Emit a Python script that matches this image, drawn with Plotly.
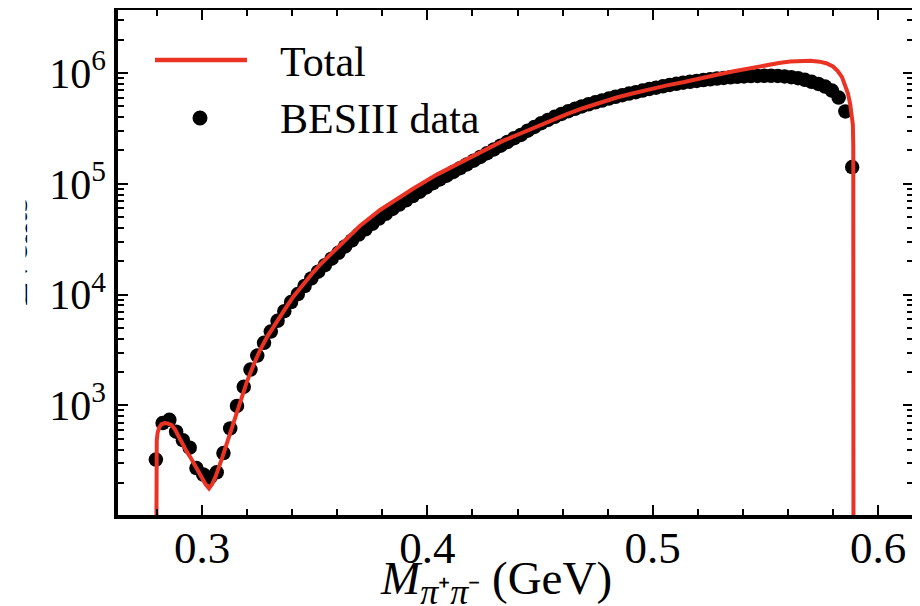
import plotly.graph_objects as go

# ---------------- data ----------------
mass_data = [0.2795, 0.2825, 0.2855, 0.2885, 0.2915, 0.2945, 0.2975, 0.3005, 0.3035, 0.3065,
             0.3095, 0.3125, 0.3155, 0.3185, 0.3215, 0.3245, 0.3275, 0.3305, 0.3335, 0.3365,
             0.3395, 0.3425, 0.3455, 0.3485, 0.3515, 0.3545, 0.3575, 0.3605, 0.3635, 0.3665,
             0.3695, 0.3725, 0.3755, 0.3785, 0.3815, 0.3845, 0.3875, 0.3905, 0.3935, 0.3965,
             0.3995, 0.4025, 0.4055, 0.4085, 0.4115, 0.4145, 0.4175, 0.4205, 0.4235, 0.4265,
             0.4295, 0.4325, 0.4355, 0.4385, 0.4415, 0.4445, 0.4475, 0.4505, 0.4535, 0.4565,
             0.4595, 0.4625, 0.4655, 0.4685, 0.4715, 0.4745, 0.4775, 0.4805, 0.4835, 0.4865,
             0.4895, 0.4925, 0.4955, 0.4985, 0.5015, 0.5045, 0.5075, 0.5105, 0.5135, 0.5165,
             0.5195, 0.5225, 0.5255, 0.5285, 0.5315, 0.5345, 0.5375, 0.5405, 0.5435, 0.5465,
             0.5495, 0.5525, 0.5555, 0.5585, 0.5615, 0.5645, 0.5675, 0.5705, 0.5735, 0.5765,
             0.5795, 0.5825, 0.5855, 0.5885]

events_data = [325, 693, 741, 580, 486, 415, 272, 238, 223, 249,
               372, 620, 989, 1474, 2107, 2819, 3674, 4645, 5800, 7096,
               8573, 10124, 11965, 14006, 16124, 18454, 21129, 23853, 27250, 30813,
               34812, 38905, 43551, 48641, 53703, 59429, 64925, 71040, 77590, 84822,
               92768, 101345, 109600, 118438, 128043, 138393, 149693, 161736, 174902, 189019,
               204394, 220953, 238781, 258047, 275997, 301577, 326137, 352507, 376963, 402902,
               427938, 452311, 476040, 500035, 522760, 544131, 565163, 588267, 610917, 631627,
               653064, 672283, 695024, 718620, 738080, 759632, 780192, 799641, 817510, 834094,
               849210, 864401, 878119, 891774, 903761, 913909, 924064, 932400, 938649, 942762,
               944934, 944934, 940596, 932400, 917919, 897788, 868246, 834094, 797804, 754528,
               695024, 601423, 450333, 141579]

mass_total = [0.27955, 0.27960, 0.27970, 0.2799, 0.2803, 0.2810, 0.2820, 0.2835, 0.2850, 0.2865,
              0.2880, 0.2895, 0.2910, 0.2930, 0.2954, 0.2975, 0.2999, 0.3015, 0.3031, 0.3045,
              0.3060, 0.3075, 0.3090, 0.3110, 0.3132, 0.3154, 0.3176, 0.3198, 0.3228, 0.3257,
              0.3290, 0.3316, 0.3346, 0.3376, 0.3405, 0.3435, 0.3465, 0.3494, 0.3524, 0.3553,
              0.3600, 0.3642, 0.3700, 0.3790, 0.3868, 0.3938, 0.4042, 0.4115, 0.4200, 0.4264,
              0.4330, 0.4397, 0.4470, 0.4540, 0.4619, 0.4690, 0.4767, 0.4840, 0.4914, 0.4990,
              0.5063, 0.5140, 0.5210, 0.5290, 0.5360, 0.5430, 0.5500, 0.5560, 0.5610, 0.5660,
              0.5700, 0.5740, 0.5770, 0.5800, 0.5820, 0.5840, 0.5854, 0.5866, 0.5876, 0.5884,
              0.5888, 0.5890, 0.58905, 0.5891]

events_total = [10, 279, 399, 487, 571, 634, 676, 693, 685, 663,
                607, 530, 454, 389, 325, 272, 222, 195, 178, 195,
                228, 272, 339, 454, 634, 866, 1182, 1614, 2305, 3148,
                4203, 5136, 6418, 7841, 9579, 11446, 13676, 15984, 18671, 21347,
                26668, 32584, 41620, 58101, 74234, 90700, 121114, 144678, 176787, 206633,
                241436, 275997, 318963, 368695, 425982, 481393, 544131, 601423, 657456, 718620,
                773404, 830452, 897788, 970510, 1037300, 1108940, 1172500, 1231200, 1273000, 1296000,
                1293100, 1267200, 1225600, 1146800, 1049000, 917919, 785600, 657456, 526300, 421200,
                344700, 220953, 37230, 10]

x_tick_vals = [0.3, 0.4, 0.5, 0.6]
x_tick_text = ["0.3", "0.4", "0.5", "0.6"]
y_tick_vals = [1e3, 1e4, 1e5, 1e6]
y_tick_text = ["10<sup>3</sup>", "10<sup>4</sup>", "10<sup>5</sup>", "10<sup>6</sup>"]

legend_total = "Total"
legend_data = "BESIII data"
x_title = ("<i>M</i><sub><span style='font-size:36px'><i>π</i>⁺<i>π</i>⁻</span></sub>"
           " (GeV)")
y_title = "Events"

RED = "#EB3324"
FONT = "Liberation Serif"

# The page body has an 8px margin, so the figure is drawn 8px right/down of the
# window origin. Geometry below is given in window pixels and shifted by OFF.
OFF = 8
FIG_W, FIG_H = 920 - OFF, 606 - OFF
L, R, T, B = 118, 913, 10, 515           # plot frame in window pixels
PW, PH = R - L, B - T


def px(xp):
    return (xp - L) / PW


def py(yp):
    return (B - yp) / PH


fig = go.Figure()
fig.add_trace(go.Scatter(x=mass_data, y=events_data, mode="markers",
                         marker=dict(size=14.5, color="black"), name=legend_data))
fig.add_trace(go.Scatter(x=mass_total, y=events_total, mode="lines",
                         line=dict(color=RED, width=4), name=legend_total))

axis_common = dict(showline=True, linewidth=3.5, linecolor="black", mirror="ticks",
                   ticks="inside", ticklen=10, tickwidth=2, tickcolor="black",
                   showgrid=False, zeroline=False, automargin=False)

fig.update_xaxes(range=[0.2627, 0.6155], tickmode="array", tickvals=x_tick_vals,
                 ticktext=x_tick_text, tickfont=dict(family=FONT, size=45, color="black"),
                 ticklabelstandoff=-10,
                 minor=dict(dtick=0.02, tick0=0.28, ticks="inside", ticklen=6, tickwidth=1.5,
                            tickcolor="black", showgrid=False),
                 **axis_common)
fig.update_yaxes(type="log", range=[2.011, 6.569], tickmode="array", tickvals=y_tick_vals,
                 ticktext=y_tick_text, tickfont=dict(family=FONT, size=42, color="black"),
                 minor=dict(dtick="D1", ticks="inside", ticklen=6, tickwidth=1.5,
                            tickcolor="black", showgrid=False),
                 **axis_common)

# manual legend (long line sample like the reference)
fig.add_shape(type="line", xref="paper", yref="paper", x0=px(155), x1=px(247),
              y0=py(60), y1=py(60), line=dict(color=RED, width=4.5))
fig.add_shape(type="circle", xref="paper", yref="paper", xsizemode="pixel", ysizemode="pixel",
              xanchor=px(200), yanchor=py(118), x0=-7.5, x1=7.5, y0=-7.5, y1=7.5,
              fillcolor="black", line=dict(color="black", width=0))
fig.add_annotation(text=legend_total, xref="paper", yref="paper", x=px(278), y=py(62),
                   xanchor="left", yanchor="middle", showarrow=False,
                   font=dict(family=FONT, size=42, color="black"))
fig.add_annotation(text=legend_data, xref="paper", yref="paper", x=px(278), y=py(119),
                   xanchor="left", yanchor="middle", showarrow=False,
                   font=dict(family=FONT, size=42, color="black"))

# x-axis title
fig.add_annotation(text=x_title, xref="paper", yref="paper", x=px(614), y=py(582),
                   xanchor="right", yanchor="middle", showarrow=False,
                   font=dict(family=FONT, size=47, color="black"))

# y-axis title: in the reference only its lower edge peeks out, the rest is masked
fig.add_annotation(text=y_title, xref="paper", yref="paper", x=px(37.5), y=py(252),
                   xanchor="right", yanchor="middle", textangle=-90, showarrow=False,
                   font=dict(family=FONT, size=40, color="black"))
fig.add_annotation(text=" ", xref="paper", yref="paper", x=px(-4), y=py(252),
                   xanchor="left", yanchor="middle", showarrow=False, width=28, height=150,
                   bgcolor="white", borderpad=0, font=dict(size=10))

fig.update_layout(width=FIG_W, height=FIG_H,
                  margin=dict(l=L - OFF, r=920 - R, t=T - OFF, b=606 - B),
                  plot_bgcolor="white", paper_bgcolor="white", showlegend=False,
                  font=dict(family=FONT, color="black"))

fig.write_html("out.html")
